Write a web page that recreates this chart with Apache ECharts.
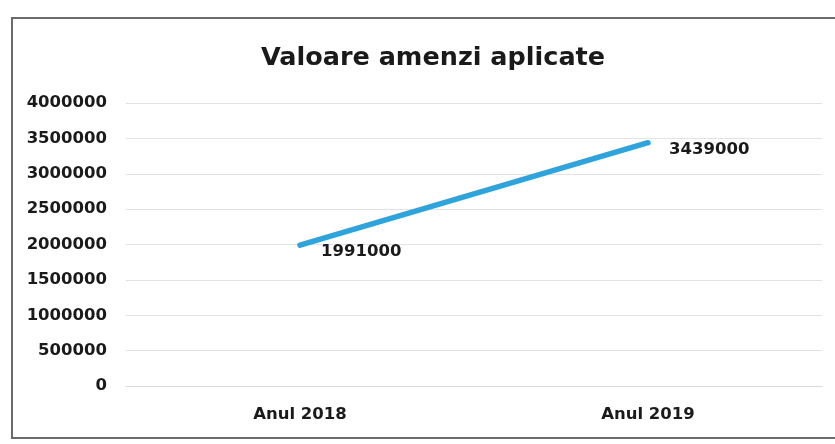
<!DOCTYPE html>
<html>
<head>
<meta charset="utf-8">
<script src="https://cdn.jsdelivr.net/npm/echarts@6/dist/echarts.min.js"></script>
<style>
html,body{margin:0;padding:0;background:#fff;}
#chart{width:835px;height:444px;}
</style>
</head>
<body>
<div id="chart"></div>
<script>
const titleText = 'Valoare amenzi aplicate';
const categories = ['Anul 2018', 'Anul 2019'];
const values = [1991000, 3439000];
const yMin = 0, yMax = 4000000, yInterval = 500000;

const chart = echarts.init(document.getElementById('chart'), null, {renderer: 'canvas'});
const font = 'DejaVu Sans';
const plain = v => String(v);
chart.setOption({
  backgroundColor: '#ffffff',
  animation: false,
  graphic: [{
    type: 'rect',
    shape: {x: 12, y: 18, width: 840, height: 420},
    style: {fill: 'none', stroke: '#6b6b6b', lineWidth: 2},
    silent: true
  }],
  title: {
    text: titleText,
    left: 428,
    top: 40,
    textAlign: 'center',
    textStyle: {fontFamily: font, fontWeight: 'bold', fontSize: 25.5, color: '#1a1a1a'}
  },
  grid: {left: 126, right: 13, top: 103, bottom: 58, containLabel: false},
  xAxis: {
    type: 'category',
    data: categories,
    boundaryGap: true,
    axisLine: {show: true, lineStyle: {color: '#d9d9d9', width: 1}},
    axisTick: {show: false},
    axisLabel: {fontFamily: font, fontWeight: 'bold', fontSize: 16.5, color: '#1a1a1a', margin: 20}
  },
  yAxis: {
    type: 'value',
    min: yMin, max: yMax, interval: yInterval,
    axisLine: {show: false},
    axisTick: {show: false},
    splitLine: {lineStyle: {color: '#e3e3e3', width: 1}},
    axisLabel: {fontFamily: font, fontWeight: 'bold', fontSize: 16.5, color: '#1a1a1a', margin: 19, formatter: plain}
  },
  series: [{
    type: 'line',
    data: values,
    symbol: 'circle',
    symbolSize: 2,
    showSymbol: true,
    itemStyle: {color: '#2fa3db', borderWidth: 0},
    lineStyle: {color: '#2fa3db', width: 5.5, cap: 'round'},
    label: {
      show: true,
      position: 'right',
      distance: 20,
      offset: [0, 7],
      formatter: p => String(p.value),
      fontFamily: font, fontWeight: 'bold', fontSize: 16.5, color: '#1a1a1a'
    }
  }]
});
</script>
</body>
</html>
